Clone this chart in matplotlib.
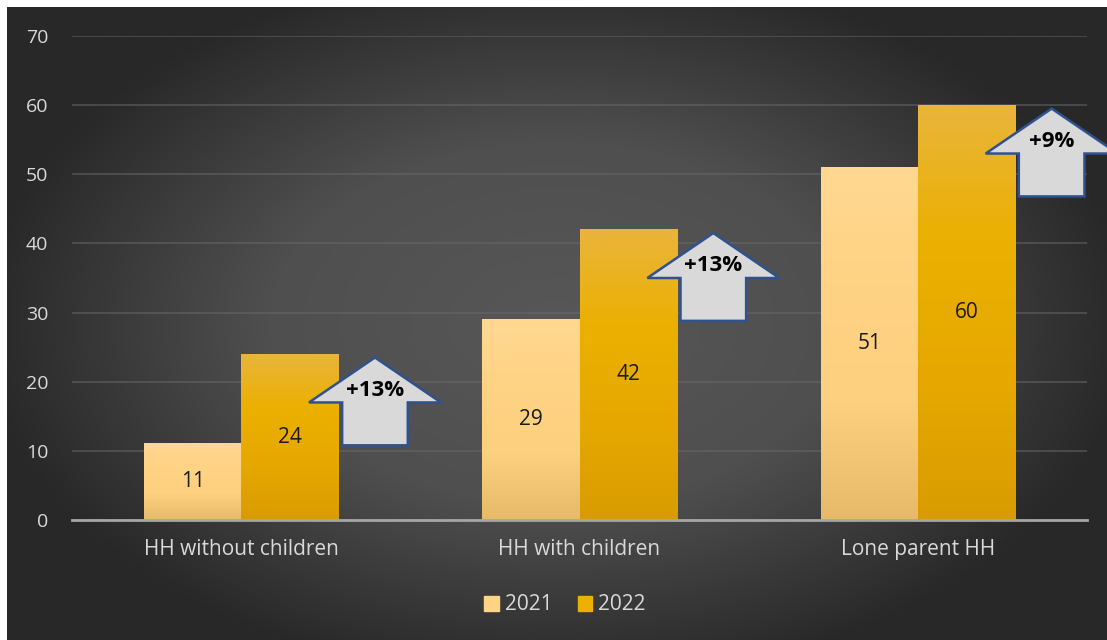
import numpy as np
import matplotlib.pyplot as plt
from matplotlib.patches import Polygon
from matplotlib.colors import LinearSegmentedColormap

categories = ["HH without children", "HH with children", "Lone parent HH"]
years = ["2021", "2022"]
values_2021 = [11, 29, 51]
values_2022 = [24, 42, 60]
change_labels = ["+13%", "+13%", "+9%"]

plt.rcParams["font.family"] = ["Open Sans", "DejaVu Sans"]

fig = plt.figure(figsize=(11.07, 6.40), dpi=100)
fig.patch.set_facecolor("white")

# dark radial backdrop
bg = fig.add_axes([7 / 1107, 0, 1 - 7 / 1107, 1 - 7 / 640])
bg.set_axis_off()
yy, xx = np.mgrid[-1:1:320j, -1:1:560j]
r = np.sqrt((xx / 1.05) ** 2 + (yy / 1.15) ** 2)
shade = np.clip(1 - r, 0, 1)
bg_cmap = LinearSegmentedColormap.from_list("bg", ["#282828", "#4f4f4f", "#575757"])
bg.imshow(shade, cmap=bg_cmap, aspect="auto", extent=[0, 1, 0, 1], vmin=0, vmax=1)
bg.set_xlim(0, 1)
bg.set_ylim(0, 1)

ax = fig.add_axes([72 / 1107, 1 - 520 / 640, (1087 - 72) / 1107, (520 - 36) / 640])
ax.patch.set_alpha(0)

width = 0.287
x = np.arange(len(categories))

cmap_2021 = LinearSegmentedColormap.from_list("c21", ["#E6BA68", "#FCD07E", "#FFD384", "#FFD892"])
cmap_2022 = LinearSegmentedColormap.from_list("c22", ["#D99C00", "#E6A800", "#EBB000", "#E9B53C"])
grad = np.linspace(0, 1, 256).reshape(-1, 1)


def gradient_bars(xs, heights, cmap):
    for xc, h in zip(xs, heights):
        ax.imshow(grad, cmap=cmap, origin="lower", aspect="auto",
                  extent=[xc - width / 2, xc + width / 2, 0, h], zorder=3)


gradient_bars(x - width / 2, values_2021, cmap_2021)
gradient_bars(x + width / 2, values_2022, cmap_2022)
ax.set_xlim(-0.5, 2.5)
ax.set_ylim(0, 70)

for xc, v in zip(x - width / 2, values_2021):
    ax.text(xc, v / 2, str(v), ha="center", va="center", fontsize=15, color="#1a1a1a", zorder=5)
for xc, v in zip(x + width / 2, values_2022):
    ax.text(xc, v / 2, str(v), ha="center", va="center", fontsize=15, color="#1a1a1a", zorder=5)

# change arrows next to the 2022 bars
for xc, v, lab in zip(x + width / 2, values_2022, change_labels):
    cx = xc + 0.252
    tip = v - 0.5
    base = tip - 6.5
    bottom = base - 6.2
    hw, sw = 0.195, 0.097
    pts = [(cx, tip), (cx + hw, base), (cx + sw, base), (cx + sw, bottom),
           (cx - sw, bottom), (cx - sw, base), (cx - hw, base)]
    ax.add_patch(Polygon(pts, closed=True, facecolor="#D9D9D9", edgecolor="#2F528F",
                         linewidth=1.8, zorder=6, clip_on=False))
    ax.text(cx, base + 1.8, lab, ha="center", va="center", fontsize=16,
            fontweight="bold", color="black", zorder=7, clip_on=False)

ax.set_yticks(range(0, 71, 10))
ax.grid(axis="y", color="#6a6a6a", alpha=0.55, linewidth=1.3, zorder=1)
ax.set_axisbelow(True)
for s in ["top", "right", "left"]:
    ax.spines[s].set_visible(False)
ax.spines["bottom"].set_color("#a6a6a6")
ax.spines["bottom"].set_linewidth(2)
ax.spines["bottom"].set_zorder(4)

ax.set_xticks(x)
ax.set_xticklabels(categories)
ax.tick_params(axis="x", length=0, pad=14, labelsize=15, labelcolor="#d9d9d9")
ax.tick_params(axis="y", length=0, pad=17, labelsize=14, labelcolor="#d9d9d9")

handles = [plt.Rectangle((0, 0), 1, 1, color="#FFD384"),
           plt.Rectangle((0, 0), 1, 1, color="#EBB000")]
fig.legend(handles, years, loc="center", bbox_to_anchor=(565 / 1107, 1 - 605 / 640),
           ncol=2, frameon=False, fontsize=15, labelcolor="#d9d9d9",
           handlelength=0.7, handleheight=0.7, handletextpad=0.3, columnspacing=1.2)

fig.savefig("out.png", dpi=100)
